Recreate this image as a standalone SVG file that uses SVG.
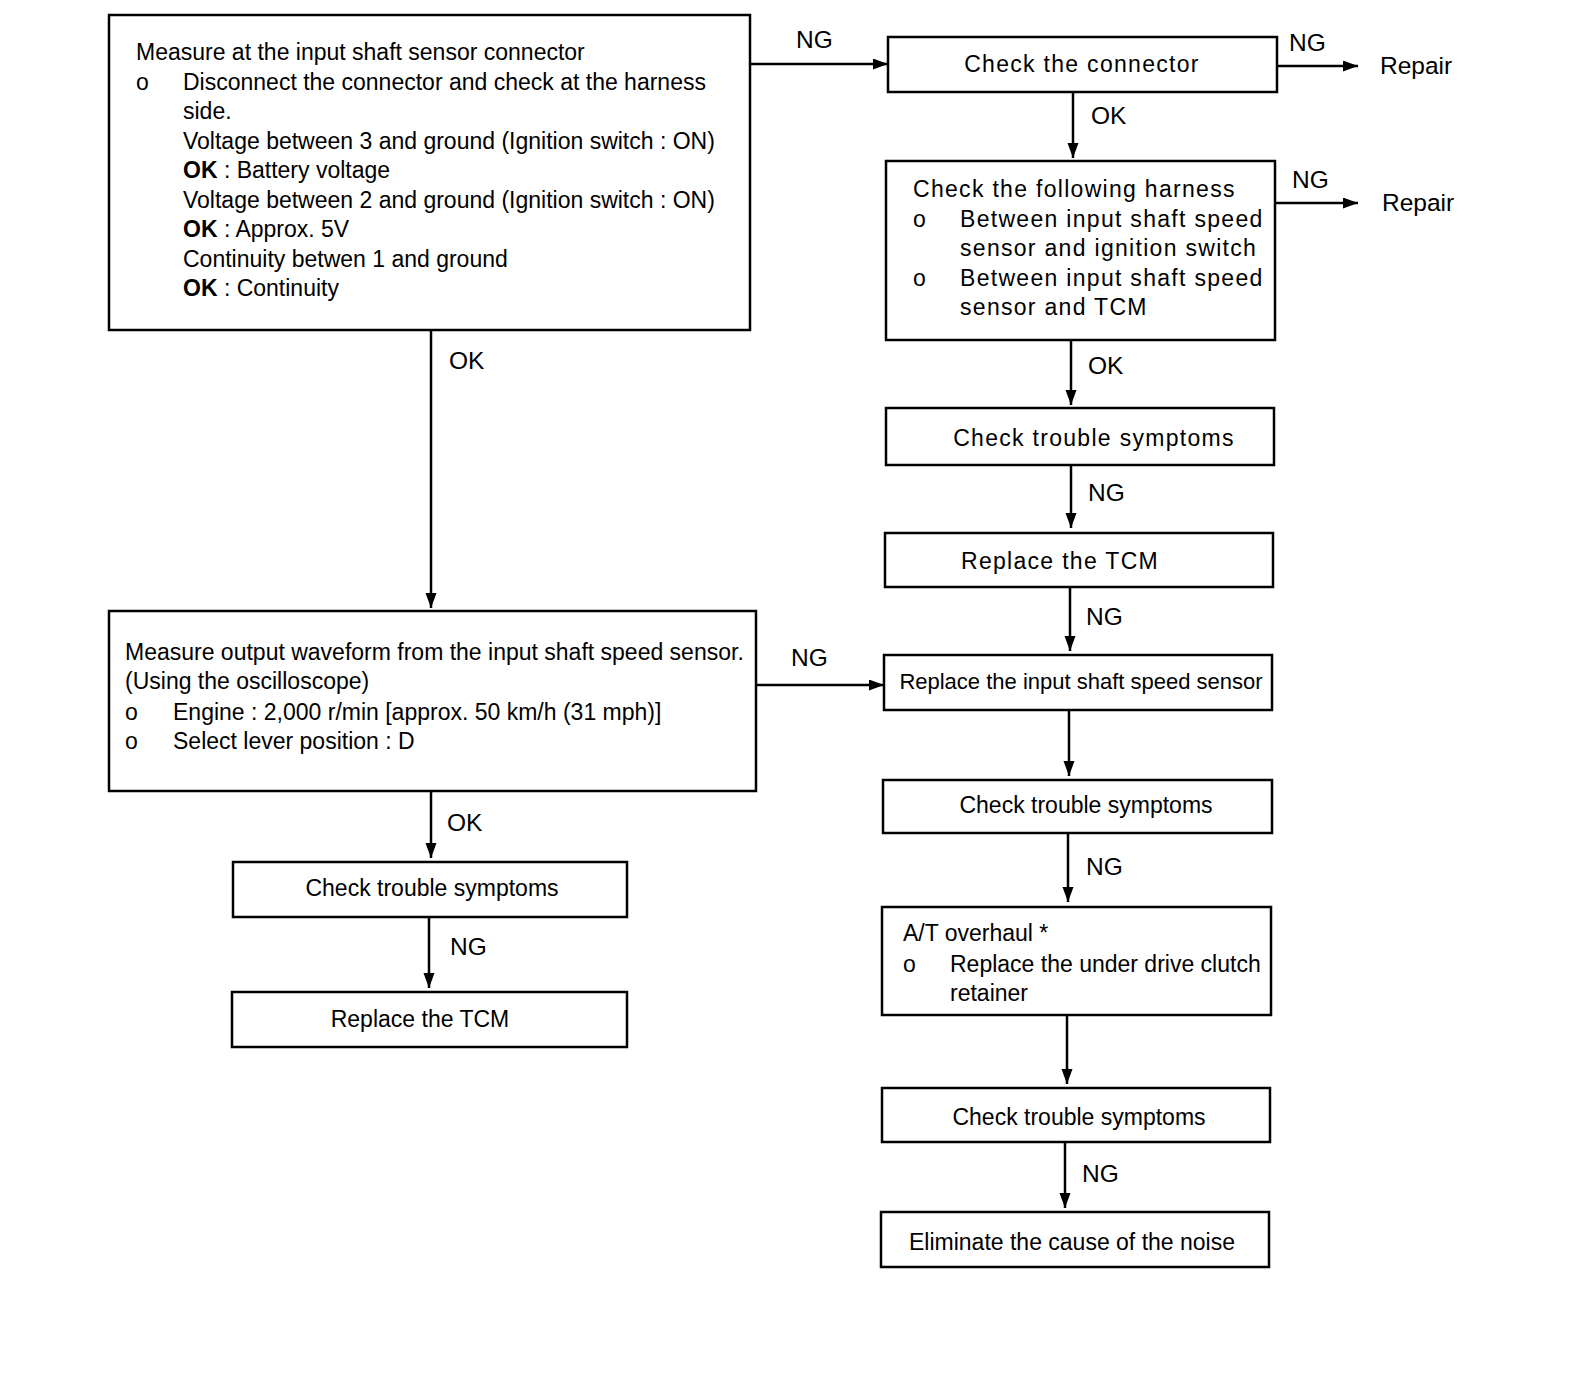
<svg xmlns="http://www.w3.org/2000/svg" width="1584" height="1380" viewBox="0 0 1584 1380">
<defs>
<marker id="ah" markerUnits="userSpaceOnUse" markerWidth="16" markerHeight="12" refX="15" refY="5.5" orient="auto">
<path d="M0,0 L15,5.5 L0,11 z" fill="#000"/>
</marker>
<style>
.box{fill:#fff;stroke:#000;stroke-width:2.5}
.con{stroke:#000;stroke-width:2.5;fill:none;marker-end:url(#ah)}
text{font-family:"Liberation Sans",Arial,sans-serif;font-size:23px;fill:#000}
.c{text-anchor:middle}
.w{letter-spacing:1.3px}
.lb{font-size:24.5px}
.n{font-size:22px}
</style>
</defs>
<rect width="1584" height="1380" fill="#fff"/>
<g id="connectors">
<path class="con" d="M750,64 H888"/>
<path class="con" d="M1277,66 H1358"/>
<path class="con" d="M1073,92 V158"/>
<path class="con" d="M1275,203 H1358"/>
<path class="con" d="M1071,340 V405"/>
<path class="con" d="M1071,465 V528"/>
<path class="con" d="M1070,587 V651"/>
<path class="con" d="M1069,710 V776"/>
<path class="con" d="M1068,833 V902"/>
<path class="con" d="M1067,1015 V1084"/>
<path class="con" d="M1065,1142 V1208"/>
<path class="con" d="M431,330 V608"/>
<path class="con" d="M756,685 H884"/>
<path class="con" d="M431,791 V858"/>
<path class="con" d="M429,917 V988"/>
<text class="lb" x="796" y="48">NG</text>
<text class="lb" x="1289" y="51">NG</text>
<text class="lb" x="1380" y="74">Repair</text>
<text class="lb" x="1091" y="124">OK</text>
<text class="lb" x="1292" y="188">NG</text>
<text class="lb" x="1382" y="211">Repair</text>
<text class="lb" x="1088" y="374">OK</text>
<text class="lb" x="1088" y="501">NG</text>
<text class="lb" x="1086" y="625">NG</text>
<text class="lb" x="1086" y="875">NG</text>
<text class="lb" x="1082" y="1182">NG</text>
<text class="lb" x="449" y="369">OK</text>
<text class="lb" x="791" y="666">NG</text>
<text class="lb" x="447" y="831">OK</text>
<text class="lb" x="450" y="955">NG</text>
</g>
<g id="n1">
<rect class="box" x="109" y="15" width="641" height="315"/>
<text x="136" y="60">Measure at the input shaft sensor connector</text>
<text x="136" y="90">o</text>
<text x="183" y="90">Disconnect the connector and check at the harness</text>
<text x="183" y="119">side.</text>
<text x="183" y="149">Voltage between 3 and ground (Ignition switch : ON)</text>
<text x="183" y="178"><tspan font-weight="bold">OK</tspan> : Battery voltage</text>
<text x="183" y="208">Voltage between 2 and ground (Ignition switch : ON)</text>
<text x="183" y="237"><tspan font-weight="bold">OK</tspan> : Approx. 5V</text>
<text x="183" y="267">Continuity betwen 1 and ground</text>
<text x="183" y="296"><tspan font-weight="bold">OK</tspan> : Continuity</text>
</g>
<g id="n2">
<rect class="box" x="888" y="37" width="389" height="55"/>
<text class="c w" x="1082" y="72">Check the connector</text>
</g>
<g id="n3">
<rect class="box" x="886" y="161" width="389" height="179"/>
<text class="w" x="913" y="197">Check the following harness</text>
<text class="w" x="913" y="227">o</text>
<text class="w" x="960" y="227">Between input shaft speed</text>
<text class="w" x="960" y="256">sensor and ignition switch</text>
<text class="w" x="913" y="286">o</text>
<text class="w" x="960" y="286">Between input shaft speed</text>
<text class="w" x="960" y="315">sensor and TCM</text>
</g>
<g id="n4">
<rect class="box" x="886" y="408" width="388" height="57"/>
<text class="c w" x="1094" y="446">Check trouble symptoms</text>
</g>
<g id="n5">
<rect class="box" x="885" y="533" width="388" height="54"/>
<text class="c w" x="1060" y="569">Replace the TCM</text>
</g>
<g id="n6">
<rect class="box" x="884" y="655" width="388" height="55"/>
<text class="c n" x="1081" y="689">Replace the input shaft speed sensor</text>
</g>
<g id="n7">
<rect class="box" x="883" y="780" width="389" height="53"/>
<text class="c" x="1086" y="813">Check trouble symptoms</text>
</g>
<g id="n8">
<rect class="box" x="882" y="907" width="389" height="108"/>
<text x="903" y="941">A/T overhaul *</text>
<text x="903" y="972">o</text>
<text x="950" y="972">Replace the under drive clutch</text>
<text x="950" y="1001">retainer</text>
</g>
<g id="n9">
<rect class="box" x="882" y="1088" width="388" height="54"/>
<text class="c" x="1079" y="1125">Check trouble symptoms</text>
</g>
<g id="n10">
<rect class="box" x="881" y="1212" width="388" height="55"/>
<text class="c" x="1072" y="1250">Eliminate the cause of the noise</text>
</g>
<g id="n11">
<rect class="box" x="109" y="611" width="647" height="180"/>
<text x="125" y="660">Measure output waveform from the input shaft speed sensor.</text>
<text x="125" y="689">(Using the oscilloscope)</text>
<text x="125" y="720">o</text>
<text x="173" y="720">Engine : 2,000 r/min [approx. 50 km/h (31 mph)]</text>
<text x="125" y="749">o</text>
<text x="173" y="749">Select lever position : D</text>
</g>
<g id="n12">
<rect class="box" x="233" y="862" width="394" height="55"/>
<text class="c" x="432" y="896">Check trouble symptoms</text>
</g>
<g id="n13">
<rect class="box" x="232" y="992" width="395" height="55"/>
<text class="c" x="420" y="1027">Replace the TCM</text>
</g>
</svg>
